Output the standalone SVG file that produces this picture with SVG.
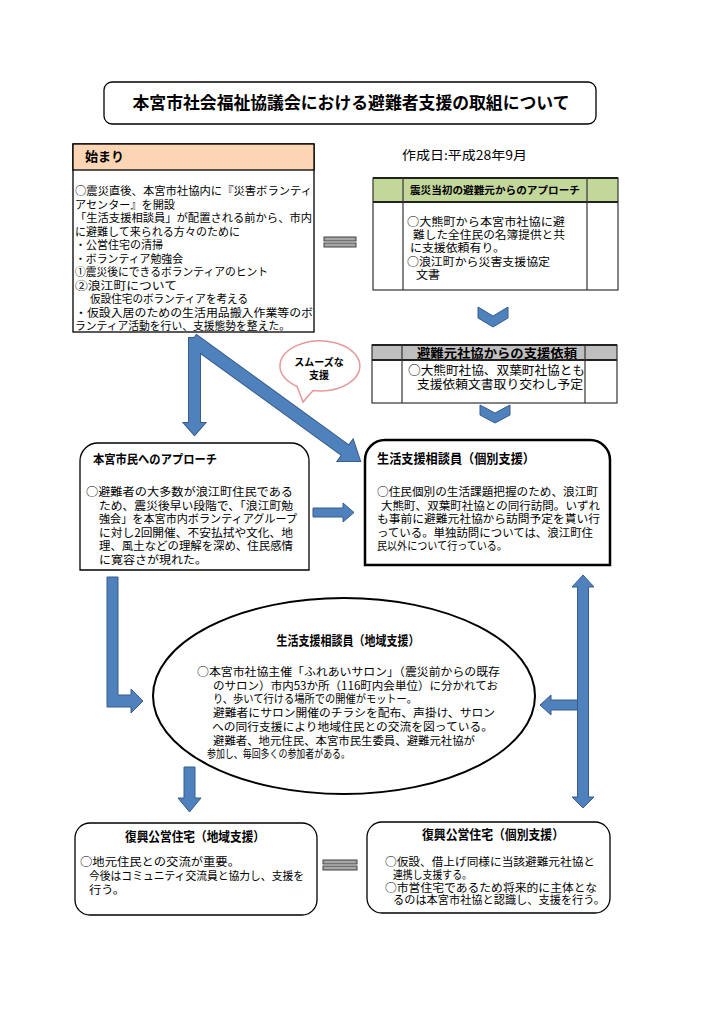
<svg xmlns="http://www.w3.org/2000/svg" width="724" height="1024" viewBox="0 0 724 1024">
<defs>
<style>
text { font-family: "Noto Sans CJK JP", "Noto Sans", sans-serif; fill: #000; }
.b { font-weight: bold; }
.box { fill: #fff; stroke: #000; stroke-width: 1.3; }
.thick { fill: #fff; stroke: #000; stroke-width: 2.5; }
.arrow { fill: #4F81BD; stroke: #385D8A; stroke-width: 1; }
.arrowfill { fill: #4F81BD; stroke: none; }
.eq { fill: #A6A6A6; stroke: #404040; stroke-width: 1; }
.grid { stroke: #333; stroke-width: 1.2; fill: none; }
.heavy { stroke: #222; stroke-width: 2; }
</style>
</defs>
<rect width="724" height="1024" fill="#fff"/>

<g id="title">
<rect x="104" y="82" width="492" height="42" rx="8" class="box"/>
<text x="351" y="109" text-anchor="middle" class="b" font-size="17" textLength="437" lengthAdjust="spacingAndGlyphs">本宮市社会福祉協議会における避難者支援の取組について</text>
</g>

<g id="date">
<text x="402" y="160" font-size="12.5" textLength="125" lengthAdjust="spacingAndGlyphs">作成日:平成28年9月</text>
</g>

<g id="start">
<rect x="73" y="144" width="241" height="188" class="box"/>
<rect x="73" y="144" width="241" height="26" fill="#FCD5B4" stroke="#000" stroke-width="1.3"/>
<text x="85" y="161" class="b" font-size="13">始まり</text>
<text font-size="11" lengthAdjust="spacingAndGlyphs"><tspan x="75" y="195" textLength="237" lengthAdjust="spacingAndGlyphs">○震災直後、本宮市社協内に『災害ボランティ</tspan><tspan x="75" y="208.5" textLength="100" lengthAdjust="spacingAndGlyphs">アセンター』を開設</tspan><tspan x="75" y="222" textLength="237" lengthAdjust="spacingAndGlyphs">「生活支援相談員」が配置される前から、市内</tspan><tspan x="75" y="235.5" textLength="165" lengthAdjust="spacingAndGlyphs">に避難して来られる方々のために</tspan><tspan x="75" y="249" textLength="88" lengthAdjust="spacingAndGlyphs">・公営住宅の清掃</tspan><tspan x="75" y="262.5" textLength="108" lengthAdjust="spacingAndGlyphs">・ボランティア勉強会</tspan><tspan x="75" y="276" textLength="193" lengthAdjust="spacingAndGlyphs">①震災後にできるボランティアのヒント</tspan><tspan x="75" y="289.5" textLength="102" lengthAdjust="spacingAndGlyphs">②浪江町について</tspan><tspan x="90" y="303" textLength="158" lengthAdjust="spacingAndGlyphs">仮設住宅のボランティアを考える</tspan><tspan x="75" y="316.5" textLength="238" lengthAdjust="spacingAndGlyphs">・仮設入居のための生活用品搬入作業等のボ</tspan><tspan x="75" y="330" textLength="215" lengthAdjust="spacingAndGlyphs">ランティア活動を行い、支援態勢を整えた。</tspan></text>
</g>

<g id="initial-approach">
<rect x="373" y="178" width="245" height="24" fill="#C4D79B"/>
<rect x="373" y="178" width="245" height="112" class="grid"/>
<line x1="373" y1="178" x2="618" y2="178" class="heavy"/>
<line x1="373" y1="202" x2="618" y2="202" class="heavy"/>
<line x1="403" y1="178" x2="403" y2="290" class="grid"/>
<line x1="587" y1="178" x2="587" y2="290" class="grid"/>
<text x="495" y="194" text-anchor="middle" class="b" font-size="10.5" textLength="170" lengthAdjust="spacingAndGlyphs">震災当初の避難元からのアプローチ</text>
<text font-size="11.2"><tspan x="407" y="226" textLength="158" lengthAdjust="spacingAndGlyphs">○大熊町から本宮市社協に避</tspan><tspan x="413" y="239.2" textLength="152" lengthAdjust="spacingAndGlyphs">難した全住民の名簿提供と共</tspan><tspan x="410" y="252.4" textLength="95" lengthAdjust="spacingAndGlyphs">に支援依頼有り。</tspan><tspan x="407" y="265.6" textLength="143" lengthAdjust="spacingAndGlyphs">○浪江町から災害支援協定</tspan><tspan x="416" y="278.8" textLength="24" lengthAdjust="spacingAndGlyphs">文書</tspan></text>
</g>

<g id="request">
<rect x="372" y="345" width="245" height="15" fill="#BFBFBF"/>
<rect x="372" y="345" width="245" height="58" class="grid"/>
<line x1="372" y1="345" x2="617" y2="345" class="heavy"/>
<line x1="372" y1="360" x2="617" y2="360" class="heavy"/>
<line x1="402" y1="345" x2="402" y2="403" class="grid"/>
<line x1="585" y1="345" x2="585" y2="403" class="grid"/>
<text x="497" y="357.5" text-anchor="middle" class="b" font-size="12.5" textLength="160" lengthAdjust="spacingAndGlyphs">避難元社協からの支援依頼</text>
<text font-size="12"><tspan x="408" y="375" textLength="177" lengthAdjust="spacingAndGlyphs">○大熊町社協、双葉町社協とも</tspan><tspan x="417" y="389" textLength="166" lengthAdjust="spacingAndGlyphs">支援依頼文書取り交わし予定</tspan></text>
</g>

<g id="bubble">
<path d="M313.1 390.6 L303 402 L297.1 386.5 A40 25 0 1 1 313.1 390.6 Z" fill="#fff" stroke="#E39A9A" stroke-width="1.5"/>
<text class="b" font-size="10" text-anchor="middle"><tspan x="319" y="366">スムーズな</tspan><tspan x="319" y="378.5">支援</tspan></text>
</g>

<g id="citizens">
<path d="M80 570 L80 461 A18 18 0 0 1 98 443 L291 443 A18 18 0 0 1 309 461 L309 570 Z" class="box"/>
<text x="93" y="464" class="b" font-size="12.5" textLength="124" lengthAdjust="spacingAndGlyphs">本宮市民へのアプローチ</text>
<text font-size="11.5"><tspan x="86" y="496" textLength="207" lengthAdjust="spacingAndGlyphs">○避難者の大多数が浪江町住民である</tspan><tspan x="99" y="509.5" textLength="194" lengthAdjust="spacingAndGlyphs">ため、震災後早い段階で、「浪江町勉</tspan><tspan x="99" y="523" textLength="198" lengthAdjust="spacingAndGlyphs">強会」を本宮市内ボランティアグループ</tspan><tspan x="99" y="536.5" textLength="194" lengthAdjust="spacingAndGlyphs">に対し2回開催、不安払拭や文化、地</tspan><tspan x="99" y="550" textLength="194" lengthAdjust="spacingAndGlyphs">理、風土などの理解を深め、住民感情</tspan><tspan x="99" y="563.5" textLength="108" lengthAdjust="spacingAndGlyphs">に寛容さが現れた。</tspan></text>
</g>

<g id="individual">
<path d="M365 565 L365 460 A20 20 0 0 1 385 440 L590 440 A20 20 0 0 1 610 460 L610 565 Z" class="thick"/>
<text x="377" y="463" class="b" font-size="13" textLength="158" lengthAdjust="spacingAndGlyphs">生活支援相談員（個別支援）</text>
<text font-size="11.4"><tspan x="377" y="496" textLength="221" lengthAdjust="spacingAndGlyphs">○住民個別の生活課題把握のため、浪江町</tspan><tspan x="381" y="509.5" textLength="219" lengthAdjust="spacingAndGlyphs">大熊町、双葉町社協との同行訪問。いずれ</tspan><tspan x="377" y="523" textLength="223" lengthAdjust="spacingAndGlyphs">も事前に避難元社協から訪問予定を貰い行</tspan><tspan x="377" y="536.5" textLength="216" lengthAdjust="spacingAndGlyphs">っている。単独訪問については、浪江町住</tspan><tspan x="377" y="550" textLength="130" lengthAdjust="spacingAndGlyphs">民以外について行っている。</tspan></text>
</g>

<g id="community">
<ellipse cx="344" cy="696" rx="191" ry="98" fill="#fff" stroke="#000" stroke-width="2"/>
<text x="348" y="645" text-anchor="middle" class="b" font-size="13" textLength="143" lengthAdjust="spacingAndGlyphs">生活支援相談員（地域支援）</text>
<text font-size="11.3"><tspan x="197" y="676" textLength="303" lengthAdjust="spacingAndGlyphs">○本宮市社協主催「ふれあいサロン」（震災前からの既存</tspan><tspan x="213" y="689.7" textLength="285" lengthAdjust="spacingAndGlyphs">のサロン）市内53か所（116町内会単位）に分かれてお</tspan><tspan x="213" y="703.4" textLength="204" lengthAdjust="spacingAndGlyphs">り、歩いて行ける場所での開催がモットー。</tspan><tspan x="213" y="717.1" textLength="282" lengthAdjust="spacingAndGlyphs">避難者にサロン開催のチラシを配布、声掛け、サロン</tspan><tspan x="212" y="730.8" textLength="281" lengthAdjust="spacingAndGlyphs">への同行支援により地域住民との交流を図っている。</tspan><tspan x="213" y="744.5" textLength="262" lengthAdjust="spacingAndGlyphs">避難者、地元住民、本宮市民生委員、避難元社協が</tspan><tspan x="207" y="758.2" textLength="143" lengthAdjust="spacingAndGlyphs">参加し、毎回多くの参加者がある。</tspan></text>
</g>

<g id="housing-community">
<rect x="75" y="823" width="242" height="92" rx="15" class="box"/>
<text x="195" y="841" text-anchor="middle" class="b" font-size="13" textLength="140" lengthAdjust="spacingAndGlyphs">復興公営住宅（地域支援）</text>
<text font-size="11.6"><tspan x="80" y="866" textLength="160" lengthAdjust="spacingAndGlyphs">○地元住民との交流が重要。</tspan><tspan x="89" y="880" textLength="215" lengthAdjust="spacingAndGlyphs">今後はコミュニティ交流員と協力し、支援を</tspan><tspan x="89" y="894" textLength="36" lengthAdjust="spacingAndGlyphs">行う。</tspan></text>
</g>

<g id="housing-individual">
<rect x="367" y="822" width="243" height="91" rx="15" class="box"/>
<text x="493" y="839" text-anchor="middle" class="b" font-size="13" textLength="142" lengthAdjust="spacingAndGlyphs">復興公営住宅（個別支援）</text>
<text font-size="11.2"><tspan x="385" y="866" textLength="210" lengthAdjust="spacingAndGlyphs">○仮設、借上げ同様に当該避難元社協と</tspan><tspan x="393" y="878.8" textLength="79" lengthAdjust="spacingAndGlyphs">連携し支援する。</tspan><tspan x="385" y="891.6" textLength="212" lengthAdjust="spacingAndGlyphs">○市営住宅であるため将来的に主体とな</tspan><tspan x="393" y="904.4" textLength="212" lengthAdjust="spacingAndGlyphs">るのは本宮市社協と認識し、支援を行う。</tspan></text>
</g>

<g id="connectors">
<rect x="324" y="237" width="32" height="4" class="eq"/>
<rect x="324" y="243" width="32" height="4" class="eq"/>
<rect x="323" y="860" width="34" height="4" class="eq"/>
<rect x="323" y="866" width="34" height="4" class="eq"/>
<polygon points="478,307 493,316 508,307 508,318 493,327 478,318" class="arrow"/>
<polygon points="480,405 495,413 510,405 510,415 495,423 480,415" class="arrow"/>
<g>
<polygon points="196.5,335.1 348.9,445.5 353,439.9 360,461 337.8,460.9 341.9,455.3 189.5,344.9" fill="#385D8A" stroke="#385D8A" stroke-width="2"/>
<path d="M189 338 L200 338 L200 423 L205 423 L194.5 435 L184 423 L189 423 Z" fill="#385D8A" stroke="#385D8A" stroke-width="2"/>
<polygon points="196.5,335.1 348.9,445.5 353,439.9 360,461 337.8,460.9 341.9,455.3 189.5,344.9" class="arrowfill"/>
<path d="M189 338 L200 338 L200 423 L205 423 L194.5 435 L184 423 L189 423 Z" class="arrowfill"/>
</g>
<path d="M313 508 L343 508 L343 503 L354 512.5 L343 522 L343 517 L313 517 Z" class="arrow"/>
<path d="M107 577 L118 577 L118 695 L131 695 L131 689 L143 701 L131 713 L131 707 L107 707 Z" class="arrow"/>
<path d="M184 767 L195 767 L195 798 L201 798 L189.5 812 L178 798 L184 798 Z" class="arrow"/>
<path d="M578 700 L551 700 L551 695 L540 705 L551 715 L551 710 L578 710 Z" class="arrow"/>
<path d="M583 575 L594 587 L588.5 587 L588.5 797 L594 797 L583 808 L572 797 L577.5 797 L577.5 587 L572 587 Z" class="arrow"/>
</g>
</svg>
